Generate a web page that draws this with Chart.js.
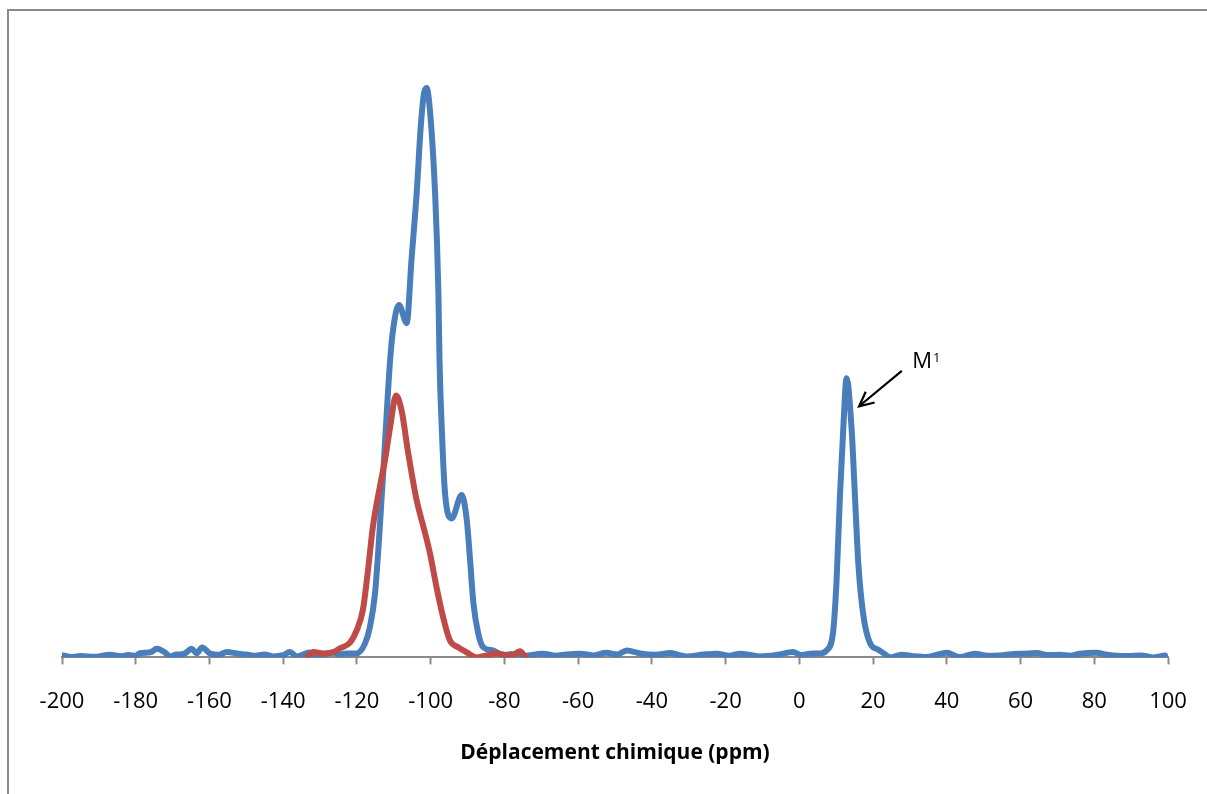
<!DOCTYPE html>
<html>
<head>
<meta charset="utf-8">
<script src="https://cdn.jsdelivr.net/npm/chart.js@4.4.1/dist/chart.umd.min.js"></script>
<style>
    html, body { margin: 0; padding: 0; background: #fff; overflow: hidden; }
    #frame { position: absolute; left: 7px; top: 9px; width: 1400px; height: 1000px;
             border-left: 2px solid #8a8a8a; border-top: 2px solid #8a8a8a; }
    #wrap { position: absolute; left: 0; top: 0; width: 1207px; height: 794px; }
</style>
</head>
<body>
<div id="frame"></div>
<div id="wrap"><canvas id="myChart" width="1207" height="794"></canvas></div>
<script>
// chemical shift (ppm) and intensity
const blueShift = [
    -199.7, -197, -195, -191, -189, -187.0, -184, -182, -180, -178.8, -176, -174.3, -172.1, -170.7,
    -169, -167, -164.8, -163.5, -162.0, -159.9, -157.5, -155.3, -152.6, -150, -148, -145, -142.8,
    -140, -138.2, -136.3, -134.5, -132.7, -130.9, -128.5, -126.5, -124.5, -122.8,
    -120.1, -117.8, -116.5, -115.1, -113.8, -112.4, -111.0, -110.1, -108.6, -106.5, -105.2,
    -103.8, -102.7, -101.8, -101.1, -100.2, -98.8, -97.9, -97.6, -97.0, -96.1, -94.3, -91.6,
    -90.2, -89.3, -88.4, -87.1, -85.7, -83.1, -80.4, -78, -75.8, -73, -69.5, -66, -63.1, -59.5,
    -56, -52.3, -49.5, -46.8, -43.2, -39, -35.1, -32.5, -30.6, -26, -22.4, -19, -16.1, -13,
    -10.7, -6, -1.7, 0.5, 2.9, 5.6, 7.4, 9.2, 10.1, 11.0, 11.9, 12.8,
    14.2, 15.1, 16.0, 17.3, 19.2, 21.4, 23.7, 24.6, 27.7, 31, 34.5, 37, 39.9, 43.6, 47.6, 51,
    54.4, 57.5, 60.7, 64.4, 67.5, 70.7, 73.5, 76.1, 80.6, 83, 85.1, 89, 92.8, 96.0, 99.2
];
const blueIntensity = [
    0.35, 0.05, 0.25, 0.1, 0.3, 0.47, 0.2, 0.4, 0.3, 0.75, 0.9, 1.5, 0.88, 0.18,
    0.5, 0.6, 1.5, 0.7, 1.76, 0.7, 0.45, 0.93, 0.7, 0.5, 0.3, 0.5, 0.18,
    0.4, 0.93, 0.18, 0.55, 0.88, 0.18, 0.6, 0.88, 0.5, 0.7,
    0.7, 2.46, 5.27, 11.2, 22.8, 37.6, 52.2, 58.0, 61.9, 58.7, 69.8,
    81.5, 93.1, 99.1, 100, 96.1, 81.5, 64.0, 52.2, 40.4, 28.8, 24.4, 28.5,
    24.1, 17.0, 9.5, 4.2, 1.76, 1.23, 0.35, 0.6, 0.05, 0.4, 0.65, 0.3, 0.53, 0.65,
    0.35, 0.82, 0.5, 1.23, 0.7, 0.45, 0.76, 0.4, 0.18, 0.5, 0.65, 0.3, 0.65, 0.4,
    0.18, 0.45, 0.93, 0.4, 0.65, 0.7, 1.23, 4.7, 13.5, 28.1, 39.9, 49.0,
    39.9, 28.1, 16.5, 7.7, 2.46, 1.35, 0.35, 0.0, 0.47, 0.2, 0.05, 0.4, 0.82, 0.05, 0.65, 0.3,
    0.35, 0.55, 0.65, 0.76, 0.4, 0.47, 0.3, 0.65, 0.82, 0.5, 0.35, 0.25, 0.35, 0.0, 0.35
];
const redShift = [
    -133.3, -131.8, -129.1, -126.5, -124.6, -121.9, -120.1, -118.4, -117.0, -115.7, -113.8,
    -112.4, -111.0, -109.4, -107.9, -106.1, -103.8, -101.5, -100.2, -98.4, -96.6, -94.8,
    -92.5, -90.2, -87.5, -84.8, -82.1, -78, -75.8, -74.4
];
const redIntensity = [
    0.18, 0.93, 0.7, 0.88, 1.58, 2.6, 4.7, 8.3, 15.3, 22.8, 29.9,
    34.6, 40.4, 46.0, 43.4, 35.9, 27.6, 21.8, 18.3, 12.3, 7.0, 3.0,
    1.76, 0.88, 0.0, 0.35, 0.7, 0.3, 1.1, 0.18
];
const xTicks = [-200, -180, -160, -140, -120, -100, -80, -60, -40, -20, 0, 20, 40, 60, 80, 100];

// annotation M1: label anchor and arrow (data coordinates)
const labelPos = { x: 30.6, y: 50.8 };
const arrowFrom = { x: 27.8, y: 50.3 };
const arrowTo = { x: 16.2, y: 44.1 };

function toPoints(xs, ys) {
    const pts = [];
    for (let i = 0; i < xs.length; i++) {
        pts.push({ x: xs[i], y: ys[i] });
    }
    return pts;
}

const annotation = {
    id: 'annotation',
    afterDatasetsDraw(chart) {
        const ctx = chart.ctx;
        const xs = chart.scales.x, ys = chart.scales.y;
        const x1 = xs.getPixelForValue(arrowFrom.x), y1 = ys.getPixelForValue(arrowFrom.y);
        const x2 = xs.getPixelForValue(arrowTo.x), y2 = ys.getPixelForValue(arrowTo.y);
        ctx.save();
        ctx.strokeStyle = '#000';
        ctx.lineWidth = 2.2;
        ctx.beginPath();
        ctx.moveTo(x1, y1);
        ctx.lineTo(x2, y2);
        const a = Math.atan2(y2 - y1, x2 - x1);
        const hl = 16;
        ctx.moveTo(x2 + hl * Math.cos(a + Math.PI - 0.45), y2 + hl * Math.sin(a + Math.PI - 0.45));
        ctx.lineTo(x2, y2);
        ctx.lineTo(x2 + hl * Math.cos(a + Math.PI + 0.45), y2 + hl * Math.sin(a + Math.PI + 0.45));
        ctx.stroke();

        const lx = xs.getPixelForValue(labelPos.x), ly = ys.getPixelForValue(labelPos.y);
        ctx.fillStyle = '#000';
        ctx.textBaseline = 'alphabetic';
        ctx.textAlign = 'left';
        ctx.font = '22px "Open Sans"';
        ctx.fillText('M', lx, ly);
        const w = ctx.measureText('M').width;
        ctx.font = '13px "Open Sans"';
        ctx.fillText('1', lx + w + 1, ly - 6.5);
        ctx.restore();
    }
};

const ctx = document.getElementById('myChart').getContext('2d');
const myChart = new Chart(ctx, {
    type: 'line',
    data: {
        datasets: [{
            label: 'red',
            data: toPoints(redShift, redIntensity),
            borderColor: '#be4b48',
            borderWidth: 6,
            pointRadius: 0,
            fill: false,
            cubicInterpolationMode: 'monotone',
            borderCapStyle: 'round',
            borderJoinStyle: 'round'
        }, {
            label: 'blue',
            data: toPoints(blueShift, blueIntensity),
            borderColor: '#4a7ebb',
            borderWidth: 6,
            pointRadius: 0,
            fill: false,
            cubicInterpolationMode: 'monotone',
            borderCapStyle: 'round',
            borderJoinStyle: 'round'
        }]
    },
    options: {
        responsive: false,
        animation: false,
        events: [],
        layout: {
            padding: { left: 62, right: 39, top: 31, bottom: 24 }
        },
        plugins: {
            legend: { display: false },
            tooltip: { enabled: false }
        },
        scales: {
            x: {
                type: 'linear',
                min: -200,
                max: 100,
                afterBuildTicks: (scale) => {
                    scale.ticks = xTicks.map(v => ({ value: v }));
                },
                afterFit: (scale) => {
                    // label overflow is already covered by the layout padding
                    scale.paddingLeft = 0;
                    scale.paddingRight = 0;
                },
                ticks: {
                    color: '#000',
                    font: { family: '"Open Sans"', size: 22 },
                    padding: 24,
                    maxRotation: 0
                },
                grid: {
                    display: true,
                    drawOnChartArea: false,
                    drawTicks: true,
                    tickLength: 7,
                    tickWidth: 2,
                    color: '#8a8a8a'
                },
                border: { display: true, color: '#8a8a8a', width: 2 },
                title: {
                    display: true,
                    text: 'Déplacement chimique (ppm)',
                    color: '#000',
                    font: { family: '"Open Sans"', size: 21, weight: 'bold' },
                    padding: { top: 2, bottom: 4 }
                }
            },
            y: {
                display: false,
                min: 0,
                max: 110
            }
        }
    },
    plugins: [annotation]
});
</script>
</body>
</html>
